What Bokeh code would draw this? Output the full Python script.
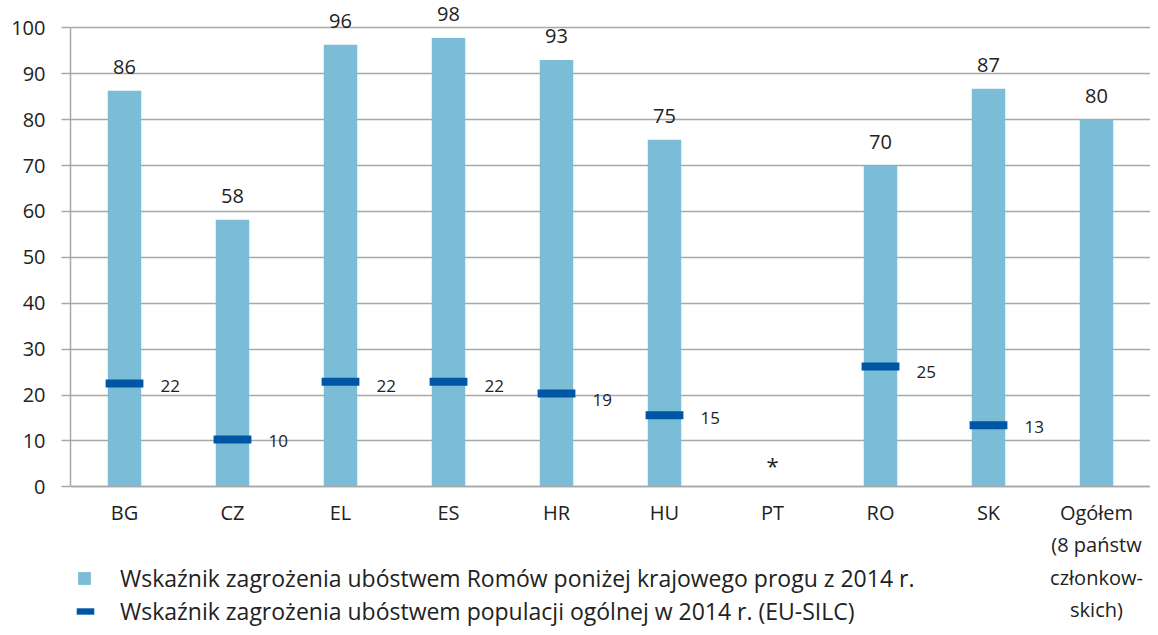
import math
from bokeh.plotting import figure
from bokeh.models import FactorRange, Range1d, FixedTicker, Legend, LegendItem, ColumnDataSource
from bokeh.core.properties import value
from bokeh.embed import file_html
from bokeh.resources import INLINE

categories = ["BG", "CZ", "EL", "ES", "HR", "HU", "PT", "RO", "SK", "Ogółem\n(8 państw\nczłonkow-\nskich)"]
roma_rate = [86.3, 58.2, 96.3, 97.8, 93.0, 75.6, math.nan, 69.9, 86.7, 80.0]
roma_labels = ["86", "58", "96", "98", "93", "75", "", "70", "87", "80"]
general_rate = [22.5, 10.3, 22.9, 22.9, 20.3, 15.6, math.nan, 26.2, 13.4, math.nan]
general_labels = ["22", "10", "22", "22", "19", "15", "", "25", "13", ""]
general_label_pos = [22, 10, 22, 22, 19, 15, math.nan, 25, 13, math.nan]
pt_note = ["*"]
pt_note_cat = ["PT"]
y_ticks = [0, 10, 20, 30, 40, 50, 60, 70, 80, 90, 100]
legend_roma = "Wskaźnik zagrożenia ubóstwem Romów poniżej krajowego progu z 2014 r."
legend_general = "Wskaźnik zagrożenia ubóstwem populacji ogólnej w 2014 r. (EU-SILC)"

FONT = "Open Sans"
BAR = "#7bbcd6"
MARK = "#0055a5"
GRID = "#a8a8a8"
TXT = "#222222"

W, H = 1150, 627
LEFT = 70
PX_PER_UNIT = 4.59
ZERO_Y = 486.3  # pixel row of value 0 from the top of the figure
y_top = 100 + (ZERO_Y - 459.0) / PX_PER_UNIT
y_bottom = -(H - ZERO_Y) / PX_PER_UNIT

p = figure(width=W, height=H, output_backend="svg", toolbar_location=None,
           x_range=FactorRange(*categories, range_padding=0),
           y_range=Range1d(y_bottom, y_top),
           min_border_left=LEFT, min_border_right=0, min_border_top=0, min_border_bottom=0)
p.outline_line_color = None
p.background_fill_color = "white"

src = ColumnDataSource(dict(cat=categories, roma=roma_rate, roma_lab=roma_labels,
                            gen=general_rate, gen_lab=general_labels, gen_pos=general_label_pos))

bars = p.vbar(x="cat", top="roma", width=0.31, source=src, fill_color=BAR, line_color=None)
marks = p.rect(x="cat", y="gen", width=0.35, height=8, height_units="screen", source=src,
               fill_color=MARK, line_color=None)

p.text(x="cat", y="roma", text="roma_lab", source=src, text_align="center", text_baseline="middle",
       y_offset=-24, text_font=value(FONT), text_font_size="20px", text_color=TXT)
p.text(x="cat", y="gen_pos", text="gen_lab", source=src, text_align="left", text_baseline="middle",
       x_offset=36, text_font=value(FONT), text_font_size="17px", text_color=TXT)
p.text(x=pt_note_cat, y=[0], text=pt_note, text_align="center", text_baseline="middle",
       y_offset=-22, text_font=value(FONT), text_font_size="22px", text_color=TXT)

# axes
p.yaxis.ticker = FixedTicker(ticks=y_ticks)
p.yaxis.bounds = (0, 100)
p.yaxis.axis_line_color = GRID
p.yaxis.axis_line_width = 1.5
p.yaxis.major_tick_out = 9
p.yaxis.major_tick_in = 0
p.yaxis.major_tick_line_color = GRID
p.yaxis.major_tick_line_width = 1.5
p.yaxis.minor_tick_line_color = None
p.yaxis.major_label_text_font = FONT
p.yaxis.major_label_text_font_size = "20px"
p.yaxis.major_label_text_color = TXT
p.yaxis.major_label_standoff = 16

p.xaxis.fixed_location = 0
p.xaxis.axis_line_color = GRID
p.xaxis.axis_line_width = 1.5
p.xaxis.major_tick_out = 0
p.xaxis.major_tick_in = 0
p.xaxis.major_tick_line_color = None
p.xaxis.major_label_text_font = FONT
p.xaxis.major_label_text_font_size = "20px"
p.xaxis.major_label_text_color = TXT
p.xaxis.major_label_standoff = 12

p.xgrid.grid_line_color = None
p.ygrid.grid_line_color = GRID
p.ygrid.grid_line_width = 1.5
p.ygrid.ticker = FixedTicker(ticks=y_ticks)

leg1 = Legend(items=[LegendItem(label=legend_roma, renderers=[bars])],
              location=(6, 33), glyph_width=16, glyph_height=16, label_standoff=28,
              padding=0, margin=0, border_line_color=None, background_fill_alpha=0,
              label_text_font=FONT, label_text_font_size="23px", label_text_color=TXT)
leg2 = Legend(items=[LegendItem(label=legend_general, renderers=[marks])],
              location=(4, 0), glyph_width=22, glyph_height=8, label_standoff=24,
              padding=0, margin=0, border_line_color=None, background_fill_alpha=0,
              label_text_font=FONT, label_text_font_size="23px", label_text_color=TXT)
p.add_layout(leg1, "center")
p.add_layout(leg2, "center")

open("out.html", "w").write(file_html(p, INLINE))
